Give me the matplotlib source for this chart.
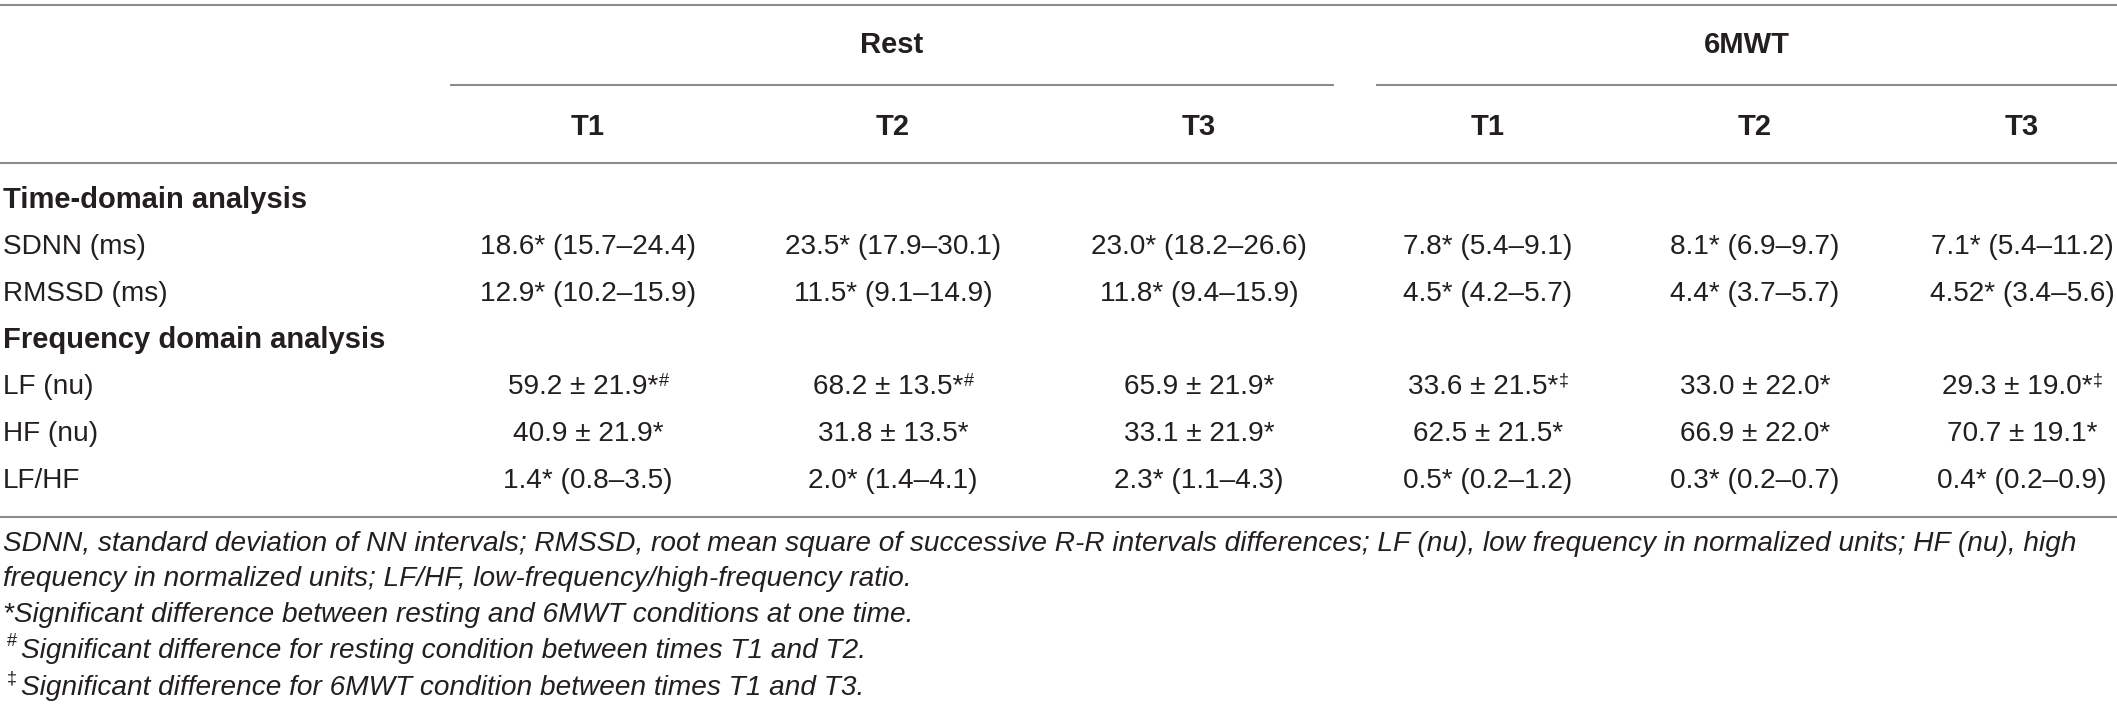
import matplotlib
matplotlib.use('Agg')
import matplotlib.pyplot as plt

# ---------------- data ----------------
conditions = ['Rest', '6MWT']
times = ['T1', 'T2', 'T3']
sections = ['Time-domain analysis', 'Frequency domain analysis']
time_labels = ['SDNN (ms)', 'RMSSD (ms)']
freq_labels = ['LF (nu)', 'HF (nu)', 'LF/HF']

sdnn = ['18.6* (15.7–24.4)', '23.5* (17.9–30.1)', '23.0* (18.2–26.6)',
        '7.8* (5.4–9.1)', '8.1* (6.9–9.7)', '7.1* (5.4–11.2)']
rmssd = ['12.9* (10.2–15.9)', '11.5* (9.1–14.9)', '11.8* (9.4–15.9)',
         '4.5* (4.2–5.7)', '4.4* (3.7–5.7)', '4.52* (3.4–5.6)']
lf = ['59.2 ± 21.9*', '68.2 ± 13.5*', '65.9 ± 21.9*',
      '33.6 ± 21.5*', '33.0 ± 22.0*', '29.3 ± 19.0*']
lf_marks = ['#', '#', '', '‡', '', '‡']
hf = ['40.9 ± 21.9*', '31.8 ± 13.5*', '33.1 ± 21.9*',
      '62.5 ± 21.5*', '66.9 ± 22.0*', '70.7 ± 19.1*']
lfhf = ['1.4* (0.8–3.5)', '2.0* (1.4–4.1)', '2.3* (1.1–4.3)',
        '0.5* (0.2–1.2)', '0.3* (0.2–0.7)', '0.4* (0.2–0.9)']

footnote_lines = [
    'SDNN, standard deviation of NN intervals; RMSSD, root mean square of successive R-R intervals differences; LF (nu), low frequency in normalized units; HF (nu), high',
    'frequency in normalized units; LF/HF, low-frequency/high-frequency ratio.',
    '*Significant difference between resting and 6MWT conditions at one time.',
    'Significant difference for resting condition between times T1 and T2.',
    'Significant difference for 6MWT condition between times T1 and T3.',
]
footnote_marks = ['', '', '', '#', '‡']

# ---------------- layout ----------------
W, H = 2117, 711
DPI = 100
plt.rcParams['font.family'] = ['Liberation Sans', 'DejaVu Sans']
TXT = '#231f20'
LINE = '#8c8c8c'
FS = 20.2
FS_BOLD = 21.0
FS_NOTE = 20.2
FS_SUP = 13

fig = plt.figure(figsize=(W / DPI, H / DPI), dpi=DPI)
ax = fig.add_axes([0, 0, 1, 1])
ax.set_xlim(0, W)
ax.set_ylim(H, 0)
ax.axis('off')

col_x = [588, 893, 1199, 1488, 1755, 2022]
group_spans = [(450, 1334), (1376, W)]
left_x = 3

y_top, y_group, y_group_line, y_time, y_head_line = 5, 45, 85, 127, 163
row_y = [200, 247, 294, 340, 387, 434, 481]
y_bottom = 517
note_y = [544, 579, 615, 651, 688]

lw = 1.5
ax.plot([0, W], [y_top, y_top], color=LINE, lw=lw, solid_capstyle='butt')
ax.plot([0, W], [y_head_line, y_head_line], color=LINE, lw=lw, solid_capstyle='butt')
ax.plot([0, W], [y_bottom, y_bottom], color=LINE, lw=lw, solid_capstyle='butt')

for name, (x0, x1) in zip(conditions, group_spans):
    ax.plot([x0, x1], [y_group_line, y_group_line], color=LINE, lw=lw, solid_capstyle='butt')
    ax.text((x0 + x1) / 2, y_group, name, ha='center', va='center',
            fontsize=FS_BOLD, fontweight='bold', color=TXT)

for i, x in enumerate(col_x):
    ax.text(x, y_time, times[i % 3], ha='center', va='center',
            fontsize=FS_BOLD, fontweight='bold', color=TXT)

rows = [
    ('section', sections[0], None, None),
    ('data', time_labels[0], sdnn, None),
    ('data', time_labels[1], rmssd, None),
    ('section', sections[1], None, None),
    ('data', freq_labels[0], lf, lf_marks),
    ('data', freq_labels[1], hf, None),
    ('data', freq_labels[2], lfhf, None),
]

pending = []
for (kind, label, vals, marks), y in zip(rows, row_y):
    if kind == 'section':
        ax.text(left_x, y, label, ha='left', va='center', fontsize=FS_BOLD,
                fontweight='bold', color=TXT)
        continue
    ax.text(left_x, y, label, ha='left', va='center', fontsize=FS, color=TXT)
    for j, (x, v) in enumerate(zip(col_x, vals)):
        t = ax.text(x, y, v, ha='center', va='center', fontsize=FS, color=TXT)
        if marks and marks[j]:
            s = ax.annotate(marks[j], xy=(1.0, 1.0), xycoords=t,
                            xytext=(0.5, 1), textcoords='offset points',
                            ha='left', va='top', fontsize=FS_SUP, color=TXT)
            pending.append((t, s, x))

# footnotes
for txt, mark, y in zip(footnote_lines, footnote_marks, note_y):
    if mark:
        ax.text(left_x + 4, y - 9, mark, ha='left', va='center',
                fontsize=FS_SUP, color=TXT)
        ax.text(left_x + 18, y, txt, ha='left', va='center', fontsize=FS_NOTE,
                style='italic', color=TXT)
    else:
        ax.text(left_x, y, txt, ha='left', va='center', fontsize=FS_NOTE,
                style='italic', color=TXT)

# re-center value + superscript as one unit
fig.canvas.draw()
inv = ax.transData.inverted()
for t, s, x in pending:
    bb = s.get_window_extent()
    (x0, _), (x1, _) = inv.transform([[bb.x0, 0], [bb.x1, 0]])
    t.set_x(x - (x1 - x0) / 2)

fig.savefig('out.png', dpi=DPI, facecolor='white')
